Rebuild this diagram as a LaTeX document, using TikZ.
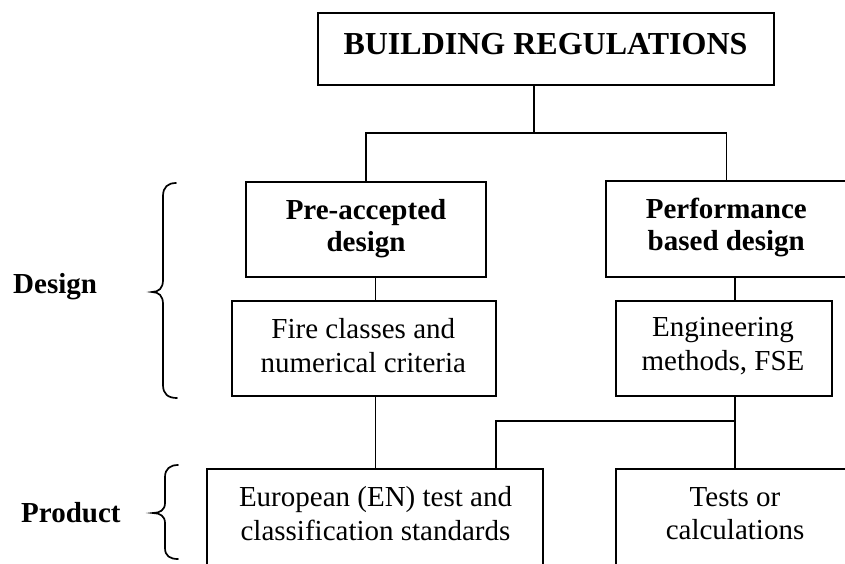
\documentclass[tikz,border=0pt]{standalone}
\usepackage{fontspec}
\setmainfont{Liberation Serif}
\begin{document}
\begin{tikzpicture}[x=1pt,y=-1pt,
  box/.style={draw, rectangle, line width=1.9pt, inner sep=0pt},
  link/.style={line width=1.6pt},
  thinlink/.style={line width=1.2pt},
  bracepath/.style={line width=1.7pt, line cap=round},
  txt/.style={align=center, inner sep=0pt, font=\fontsize{29}{33.5}\selectfont},
  btxt/.style={align=center, inner sep=0pt, font=\bfseries\fontsize{29}{32.5}\selectfont},
  ttxt/.style={inner sep=0pt, font=\bfseries\fontsize{32}{38}\selectfont}]
\useasboundingbox (0,0) rectangle (845,563);
\clip (0,0) rectangle (845,563);
\fill[white] (0,0) rectangle (845,563);

% boxes
\node[box, minimum width=456pt, minimum height=72pt] (top) at (546,49) {};
\node[box, minimum width=240pt, minimum height=95pt] (pre) at (366,229.5) {};
\node[box, minimum width=241pt, minimum height=96pt] (perf) at (726.5,229) {};
\node[box, minimum width=264pt, minimum height=95pt] (fire) at (364,348.5) {};
\node[box, minimum width=216pt, minimum height=95pt] (eng) at (724,348.5) {};
\node[box, minimum width=336pt, minimum height=151pt] (eu) at (375,544.5) {};
\node[box, minimum width=232pt, minimum height=151pt] (tests) at (732,544.5) {};

% texts
\node[ttxt, anchor=base] (toptxt) at (545.5,54) {BUILDING REGULATIONS};
\node[btxt] (pretxt) at (366,228.6) {Pre-accepted\\design};
\node[btxt] (perftxt) at (726.3,227.4) {Performance\\based design};
\node[txt] (firetxt) at (363.3,345.6) {Fire classes and\\numerical criteria};
\node[txt] (engtxt) at (723,346.3) {Engineering\\methods, FSE};
\node[txt] (eutxt) at (375.5,513.6) {European (EN) test and\\classification standards};
\node[txt] (teststxt) at (735,513.7) {Tests or\\calculations};
\node[btxt, anchor=base west] (design) at (13,293) {Design};
\node[btxt, anchor=base west] (product) at (21,522) {Product};

% connectors
\coordinate (j1) at (534,133);
\draw[link] (top.south -| j1) -- (j1);
\draw[link] (pre.north) |- (j1) -| (perf.north);
\coordinate (cl) at (375.5,0);
\draw[link] (pre.south -| cl) -- (fire.north -| cl);
\draw[thinlink] (fire.south -| cl) -- (eu.north -| cl);
\coordinate (cr) at (735,421);
\draw[link] (perf.south -| cr) -- (eng.north -| cr);
\draw[link] (eng.south -| cr) -- (tests.north -| cr);
\coordinate (cm) at (496,421);
\draw[link] (eu.north -| cm) |- (cr);

% braces
\draw[bracepath] (176,183) .. controls (168,183) and (163,187) .. (163,196)
  -- (163,280) .. controls (163,288) and (159,292) .. (152,292)
  .. controls (159,292) and (163,296) .. (163,304)
  -- (163,385) .. controls (163,394) and (168,398) .. (177,398);
\draw[bracepath] (178,465) .. controls (170,465) and (165,469) .. (165,477)
  -- (165,503) .. controls (165,510) and (160,513) .. (153,513)
  .. controls (160,513) and (165,516) .. (165,523)
  -- (165,548) .. controls (165,556) and (170,559) .. (178,559);
\end{tikzpicture}
\end{document}
